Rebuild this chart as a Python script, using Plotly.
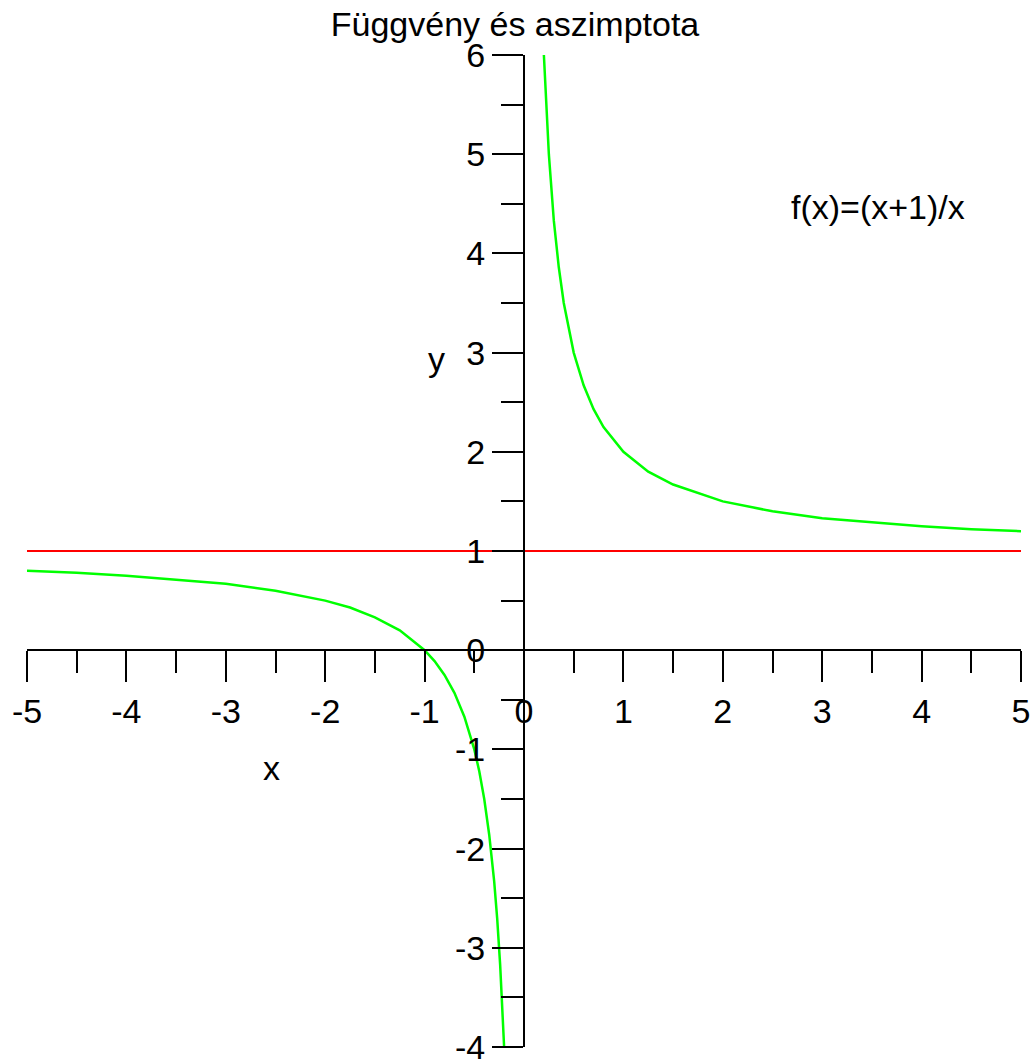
import plotly.graph_objects as go

# f(x) = (x+1)/x, left branch (x < 0)
x_left = [-5, -4.5, -4, -3.5, -3, -2.5, -2, -1.75, -1.5, -1.25, -1, -0.9, -0.8,
          -0.7, -0.6, -0.5, -0.45, -0.4, -0.35, -0.3, -0.27, -0.24, -0.22, -0.2]
y_left = [0.80, 0.78, 0.75, 0.71, 0.67, 0.60, 0.50, 0.43, 0.33, 0.20, 0.0, -0.11, -0.25,
          -0.43, -0.67, -1.0, -1.22, -1.5, -1.86, -2.33, -2.70, -3.17, -3.55, -4.0]

# right branch (x > 0)
x_right = [0.2, 0.22, 0.25, 0.3, 0.35, 0.4, 0.5, 0.6, 0.7, 0.8, 1, 1.25, 1.5,
           2, 2.5, 3, 3.5, 4, 4.5, 5]
y_right = [6.0, 5.55, 5.0, 4.33, 3.86, 3.5, 3.0, 2.67, 2.43, 2.25, 2.0, 1.8, 1.67,
           1.5, 1.4, 1.33, 1.29, 1.25, 1.22, 1.2]

# horizontal asymptote y = 1
x_asym = [-5, 5]
y_asym = [1, 1]

x_ticks = [-5, -4, -3, -2, -1, 0, 1, 2, 3, 4, 5]
y_ticks = [-4, -3, -2, -1, 0, 1, 2, 3, 4, 5, 6]

FONT = "Liberation Sans, Arial, sans-serif"
FS = 34

fig = go.Figure()
fig.add_trace(go.Scatter(x=x_asym, y=y_asym, mode="lines",
                         line=dict(color="#ff0000", width=2), showlegend=False))
fig.add_trace(go.Scatter(x=x_left, y=y_left, mode="lines",
                         line=dict(color="#00ff00", width=2.5), showlegend=False))
fig.add_trace(go.Scatter(x=x_right, y=y_right, mode="lines",
                         line=dict(color="#00ff00", width=2.5), showlegend=False))

axis_common = dict(
    showgrid=False, zeroline=False, automargin=False,
    showline=True, linecolor="black", linewidth=2,
    ticks="outside", ticklen=31, tickwidth=2, tickcolor="black",
    ticklabeloverflow="allow",
    minor=dict(dtick=0.5, ticks="outside", ticklen=22, tickwidth=2,
               tickcolor="black", showgrid=False),
    tickfont=dict(family=FONT, size=FS, color="black"),
    tickmode="array",
)

fig.update_layout(
    width=1034, height=1062,
    margin=dict(l=27, r=13, t=55, b=15),
    paper_bgcolor="white", plot_bgcolor="white",
    font=dict(family=FONT, size=FS, color="black"),
    title=dict(text="Függvény és aszimptota", x=515 / 1034, xanchor="center",
               y=1 - 24 / 1062, yanchor="middle",
               font=dict(family=FONT, size=FS, color="black")),
    xaxis=dict(range=[-5, 5], anchor="free", position=0.4,
               tickvals=x_ticks, ticktext=[str(v) for v in x_ticks],
               ticklabelstandoff=0, **axis_common),
    yaxis=dict(range=[-4, 6], anchor="free", position=0.5,
               tickvals=y_ticks, ticktext=[str(v) for v in y_ticks],
               ticklabelstandoff=0, **axis_common),
    annotations=[
        dict(text="f(x)=(x+1)/x", x=3.56, y=4.47, xref="x", yref="y",
             showarrow=False, font=dict(family=FONT, size=FS)),
        dict(text="y", x=-0.885, y=2.94, xref="x", yref="y",
             showarrow=False, font=dict(family=FONT, size=FS)),
        dict(text="x", x=-2.545, y=-1.19, xref="x", yref="y",
             showarrow=False, font=dict(family=FONT, size=FS)),
    ],
)

fig.write_html("out.html")
